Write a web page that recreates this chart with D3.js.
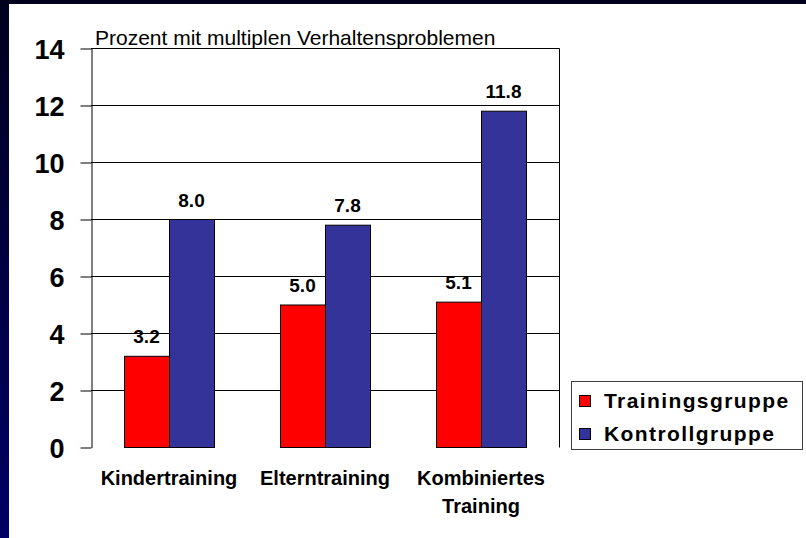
<!DOCTYPE html>
<html>
<head>
<meta charset="utf-8">
<script src="https://cdn.jsdelivr.net/npm/d3@7"></script>
<style>
  body { margin: 0; background: #fff; }
  svg { display: block; font-family: Arial, "Liberation Sans", sans-serif; }
</style>
</head>
<body>
<svg id="chart"></svg>
<script>
// Daten
const categories = [['Kindertraining'], ['Elterntraining'], ['Kombiniertes', 'Training']];
const series = ['Trainingsgruppe', 'Kontrollgruppe'];
const training = [3.2, 5.0, 5.1];
const kontrolle = [8.0, 7.8, 11.8];
const yTicks = [0, 2, 4, 6, 8, 10, 12, 14];
const title = 'Prozent mit multiplen Verhaltensproblemen';

const width = 806, height = 538;
const colors = { Trainingsgruppe: '#ff0000', Kontrollgruppe: '#333399' };

const svg = d3.select('#chart').attr('width', width).attr('height', height);

// Rahmen (dunkelblau)
const defs = svg.append('defs');
const grad = defs.append('linearGradient').attr('id', 'side').attr('x1', 0).attr('y1', 0).attr('x2', 0).attr('y2', 1);
grad.append('stop').attr('offset', '0%').attr('stop-color', '#00001e');
grad.append('stop').attr('offset', '100%').attr('stop-color', '#000066');
svg.append('rect').attr('x', 0).attr('y', 0).attr('width', width).attr('height', 4).attr('fill', '#00001e');
svg.append('rect').attr('x', 0).attr('y', 0).attr('width', 9).attr('height', height).attr('fill', 'url(#side)');

const labels = categories.map(c => c.join(' '));
const x0 = d3.scaleBand().domain(labels).range([91, 559]);
const x1 = d3.scaleBand().domain(series).range([0, x0.bandwidth()]).paddingOuter(0.733);
const y = d3.scaleLinear().domain([0, 14]).range([447.5, 48.5]);

// Gitterlinien
svg.append('g').selectAll('line').data(yTicks.filter(d => d > 0)).enter().append('line')
  .attr('x1', 91).attr('x2', 559.5)
  .attr('y1', d => y(d)).attr('y2', d => y(d))
  .attr('stroke', '#000').attr('stroke-width', 1);
svg.append('line').attr('x1', 559.5).attr('x2', 559.5).attr('y1', y(14)).attr('y2', y(0))
  .attr('stroke', '#000');

// Balken
const rows = labels.map((l, i) => ({ cat: l, vals: [
  { s: series[0], v: training[i] }, { s: series[1], v: kontrolle[i] }] }));

const groups = svg.append('g').selectAll('g').data(rows).enter().append('g')
  .attr('transform', d => `translate(${x0(d.cat)},0)`);

groups.selectAll('rect').data(d => d.vals).enter().append('rect')
  .attr('x', d => Math.round(x1(d.s)) + 0.5)
  .attr('y', d => y(d.v))
  .attr('width', Math.round(x1.bandwidth()))
  .attr('height', d => y(0) - y(d.v))
  .attr('fill', d => colors[d.s])
  .attr('stroke', '#000').attr('stroke-width', 1);

groups.selectAll('text').data(d => d.vals).enter().append('text')
  .attr('x', d => x1(d.s) + x1.bandwidth() / 2)
  .attr('y', d => y(d.v) - 13)
  .attr('text-anchor', 'middle')
  .attr('font-size', 19).attr('font-weight', 'bold')
  .text(d => d.v.toFixed(1));

// Y-Achse
const yAxis = d3.axisLeft(y).tickValues(yTicks).tickSize(11).tickSizeOuter(0).tickPadding(16);
const ya = svg.append('g').attr('transform', 'translate(91.5,0)').call(yAxis);
ya.select('.domain').attr('stroke', '#000');
ya.selectAll('.tick line').attr('stroke', '#000');
ya.selectAll('.tick text').attr('font-size', 27).attr('font-weight', 'bold')
  .attr('font-family', 'Arial, "Liberation Sans", sans-serif').attr('fill', '#000')
  .attr('dy', '0.36em');

// X-Achse Beschriftung
const xl = svg.append('g').selectAll('text').data(categories).enter().append('text')
  .attr('x', (d, i) => x0(labels[i]) + x0.bandwidth() / 2)
  .attr('y', 485)
  .attr('text-anchor', 'middle')
  .attr('font-size', 20).attr('font-weight', 'bold');
xl.selectAll('tspan').data(d => d).enter().append('tspan')
  .attr('x', function () { return d3.select(this.parentNode).attr('x'); })
  .attr('dy', (d, i) => i === 0 ? 0 : 28)
  .text(d => d);

// Titel
svg.append('text').attr('x', 95).attr('y', 45).attr('font-size', 21).text(title);

// Legende
const lg = svg.append('g');
lg.append('rect').attr('x', 571.5).attr('y', 381.5).attr('width', 231).attr('height', 68)
  .attr('fill', '#fff').attr('stroke', '#404040');
const li = lg.selectAll('g').data(series).enter().append('g')
  .attr('transform', (d, i) => `translate(0,${i * 33})`);
li.append('rect').attr('x', 579.5).attr('y', 395.5).attr('width', 11).attr('height', 11)
  .attr('fill', d => colors[d]).attr('stroke', '#000');
li.append('text').attr('x', 604).attr('y', 408)
  .attr('font-size', 21).attr('font-weight', 'bold').attr('letter-spacing', 1.4)
  .text(d => d);
</script>
</body>
</html>
